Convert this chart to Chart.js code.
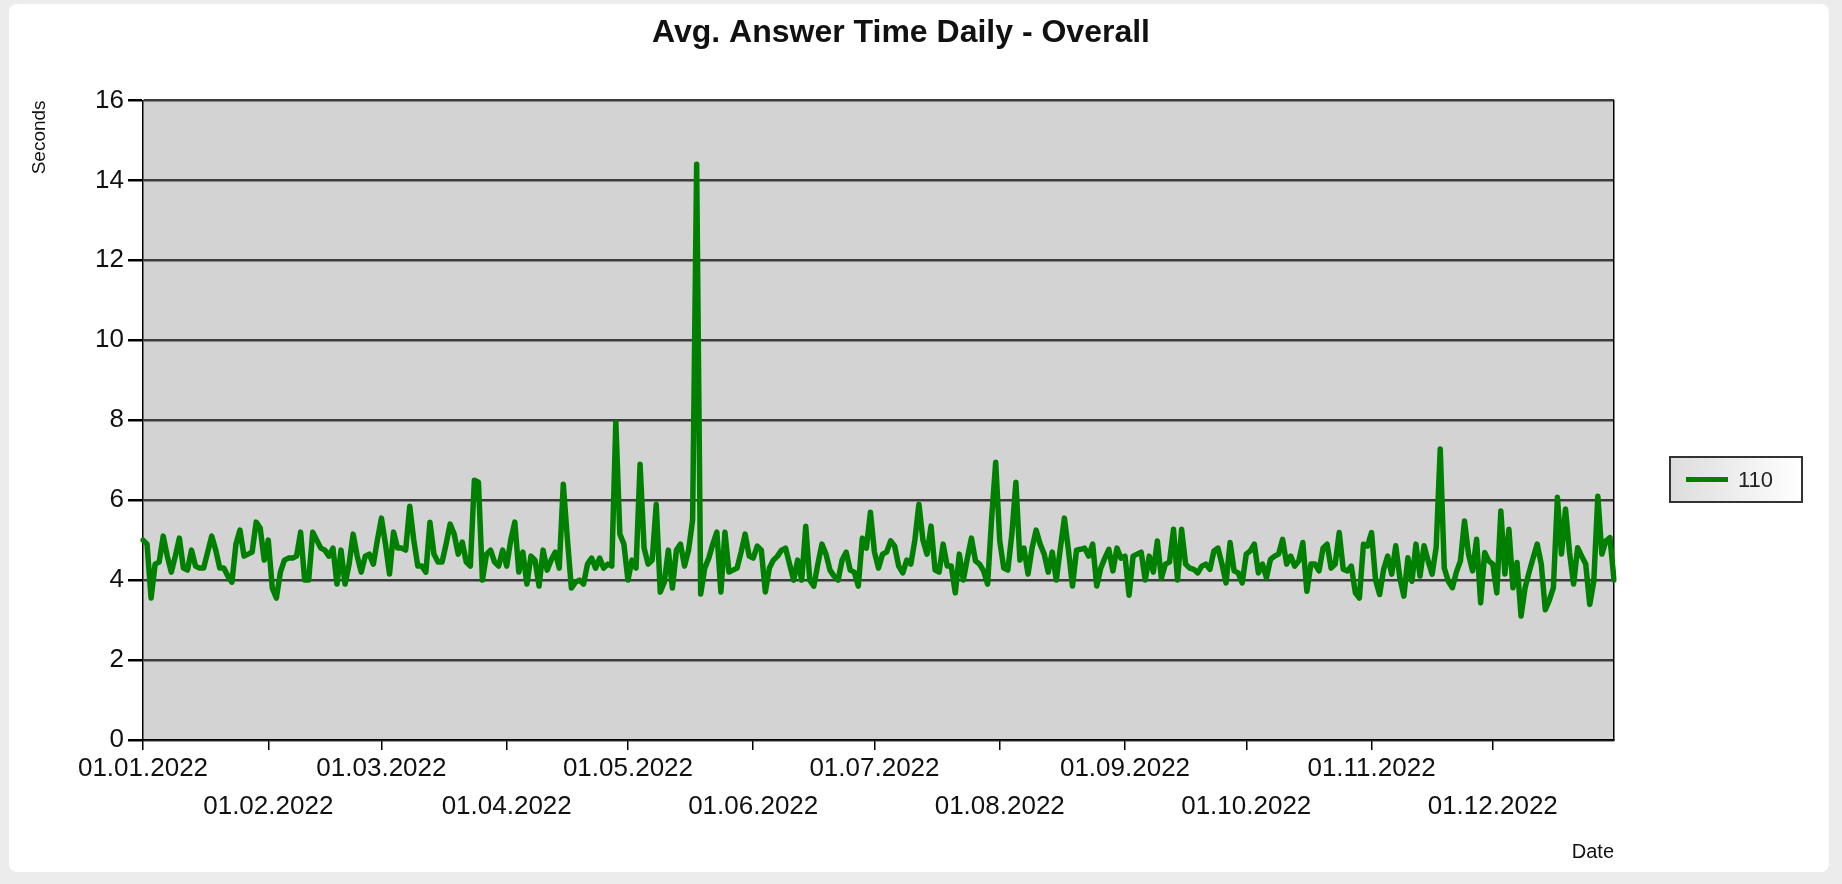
<!DOCTYPE html>
<html>
<head>
<meta charset="utf-8">
<title>Avg. Answer Time Daily - Overall</title>
<script src="https://cdn.jsdelivr.net/npm/chart.js@4.4.1/dist/chart.umd.min.js"></script>
<style>
  html, body { margin: 0; padding: 0; background: #ececec; overflow: hidden; }
  canvas { display: block; }
</style>
</head>
<body>
<canvas id="mychart" width="1842" height="884"></canvas>
<script>
// values, one array per month (seconds)
const jan = [5.0, 4.9, 3.55, 4.4, 4.45, 5.1, 4.6, 4.2, 4.6, 5.05, 4.3, 4.25, 4.75, 4.35, 4.3, 4.3, 4.7, 5.1, 4.75, 4.3,
  4.3, 4.1, 3.95, 4.9, 5.25, 4.6, 4.65, 4.7, 5.45, 5.3, 4.5];
const feb = [5.0, 3.8, 3.55, 4.2, 4.5, 4.55, 4.55, 4.6, 5.2, 4.0, 4.0, 5.2, 5.0, 4.8, 4.75, 4.6, 4.8, 3.9, 4.75, 3.9,
  4.4, 5.15, 4.6, 4.2, 4.6, 4.65, 4.4, 5.0];
const mar = [5.55, 4.9, 4.15, 5.2, 4.8, 4.8, 4.75, 5.85, 5.0, 4.35, 4.35, 4.2, 5.45, 4.65, 4.45, 4.45, 4.9, 5.4, 5.15, 4.65,
  4.95, 4.45, 4.35, 6.5, 6.45, 4.0, 4.65, 4.75, 4.45, 4.35, 4.75];
const apr = [4.35, 5.0, 5.45, 4.2, 4.7, 3.9, 4.6, 4.5, 3.85, 4.75, 4.25, 4.5, 4.7, 4.3, 6.4, 5.05, 3.8, 3.95, 4.0, 3.9,
  4.4, 4.55, 4.3, 4.55, 4.3, 4.4, 4.35, 7.95, 5.15, 4.9];
const may = [4.0, 4.5, 4.3, 6.9, 4.8, 4.4, 4.5, 5.9, 3.7, 3.95, 4.75, 3.8, 4.75, 4.9, 4.35, 4.75, 5.5, 14.4, 3.65, 4.3,
  4.55, 4.9, 5.2, 3.7, 5.2, 4.2, 4.25, 4.3, 4.7, 5.15, 4.6];
const jun = [4.55, 4.85, 4.75, 3.7, 4.3, 4.5, 4.6, 4.75, 4.8, 4.4, 4.0, 4.5, 4.0, 5.35, 4.0, 3.85, 4.4, 4.9, 4.65, 4.25,
  4.1, 4.0, 4.5, 4.7, 4.25, 4.2, 3.85, 5.05, 4.8, 5.7];
const jul = [4.7, 4.3, 4.65, 4.7, 4.98, 4.85, 4.35, 4.18, 4.5, 4.4, 5.0, 5.9, 5.0, 4.65, 5.35, 4.25, 4.2, 4.9, 4.35, 4.35,
  3.68, 4.65, 4.0, 4.55, 5.05, 4.48, 4.4, 4.23, 3.9, 5.55, 6.95];
const aug = [4.98, 4.3, 4.25, 5.15, 6.45, 4.5, 4.8, 4.15, 4.8, 5.25, 4.9, 4.65, 4.2, 4.7, 4.0, 4.8, 5.55, 4.75, 3.85, 4.75,
  4.77, 4.8, 4.6, 4.9, 3.85, 4.3, 4.55, 4.77, 4.23, 4.8, 4.55];
const sep = [4.6, 3.62, 4.6, 4.65, 4.7, 4.0, 4.6, 4.2, 4.98, 4.05, 4.4, 4.45, 5.27, 4.0, 5.27, 4.4, 4.3, 4.27, 4.18, 4.35,
  4.4, 4.27, 4.73, 4.8, 4.4, 3.93, 4.94, 4.23, 4.18, 3.93];
const oct = [4.65, 4.73, 4.9, 4.18, 4.4, 4.06, 4.52, 4.6, 4.65, 5.02, 4.4, 4.6, 4.35, 4.48, 4.94, 3.72, 4.4, 4.4, 4.23, 4.8,
  4.9, 4.3, 4.4, 5.19, 4.27, 4.23, 4.35, 3.68, 3.55, 4.9, 4.85];
const nov = [5.19, 4.0, 3.64, 4.27, 4.6, 4.15, 4.86, 4.06, 3.6, 4.56, 3.97, 4.9, 4.1, 4.86, 4.48, 4.15, 4.82, 7.28, 4.3, 3.97,
  3.81, 4.2, 4.48, 5.48, 4.65, 4.23, 5.02, 3.43, 4.69, 4.48];
const dec = [4.4, 3.68, 5.73, 4.15, 5.27, 3.81, 4.44, 3.1, 3.81, 4.2, 4.56, 4.9, 4.4, 3.26, 3.5, 3.81, 6.07, 4.65, 5.78, 4.69,
  3.9, 4.81, 4.6, 4.4, 3.39, 3.97, 6.1, 4.65, 4.98, 5.06, 4.0];

const months = [jan, feb, mar, apr, may, jun, jul, aug, sep, oct, nov, dec];
const seriesName = '110';
const yTicks = [0, 2, 4, 6, 8, 10, 12, 14, 16];

// date labels dd.mm.2022, one per value
const pad = n => String(n).padStart(2, '0');
const dates = [];
months.forEach((m, mi) => m.forEach((v, di) => dates.push(pad(di + 1) + '.' + pad(mi + 1) + '.2022')));
const answerTime = [].concat(...months);

const isMonthStart = i => dates[i] && dates[i].startsWith('01.');
const font = "'Liberation Sans', Arial, sans-serif";

// plot background, white card, legend box
const chartDecor = {
  id: 'chartDecor',
  beforeDraw(chart) {
    const { ctx, chartArea: a } = chart;
    ctx.save();
    ctx.fillStyle = '#ffffff';
    ctx.beginPath();
    if (ctx.roundRect) ctx.roundRect(9, 4, 1820, 868, 8); else ctx.rect(9, 4, 1820, 868);
    ctx.fill();
    ctx.fillStyle = '#d3d3d3';
    ctx.fillRect(a.left, a.top, a.right - a.left, a.bottom - a.top);
    ctx.restore();
  },
  afterDraw(chart) {
    const { ctx, chartArea: a } = chart;
    const ds = chart.data.datasets[0];
    const x = a.right + 56, y = 457, w = 132, h = 45;
    ctx.save();
    const g = ctx.createLinearGradient(x, 0, x + w, 0);
    g.addColorStop(0, '#dcdcdc');
    g.addColorStop(1, '#ffffff');
    ctx.fillStyle = g;
    ctx.fillRect(x, y, w, h);
    ctx.strokeStyle = '#333333';
    ctx.lineWidth = 2;
    ctx.strokeRect(x, y, w, h);
    ctx.strokeStyle = ds.borderColor;
    ctx.lineWidth = 5;
    ctx.beginPath();
    ctx.moveTo(x + 16, y + h / 2);
    ctx.lineTo(x + 58, y + h / 2);
    ctx.stroke();
    ctx.fillStyle = '#222';
    ctx.font = '22px ' + font;
    ctx.textBaseline = 'middle';
    ctx.fillText(ds.label, x + 68, y + h / 2 + 1);
    ctx.restore();
  }
};

const ctx = document.getElementById('mychart').getContext('2d');
const myChart = new Chart(ctx, {
  type: 'line',
  data: {
    labels: dates,
    datasets: [{
      label: seriesName,
      data: answerTime,
      borderColor: '#008000',
      borderWidth: 5.5,
      borderJoinStyle: 'round',
      borderCapStyle: 'round',
      pointRadius: 0,
      tension: 0,
      fill: false
    }]
  },
  options: {
    responsive: false,
    animation: false,
    layout: { padding: { left: 28, right: 68, top: 0, bottom: 0 } },
    plugins: {
      legend: { display: false },
      tooltip: { enabled: false },
      title: {
        display: true,
        text: 'Avg. Answer Time Daily - Overall',
        color: '#111',
        font: { family: font, size: 32, weight: 'bold' },
        padding: { top: 14, bottom: 48 }
      }
    },
    scales: {
      x: {
        type: 'category',
        offset: false,
        grid: {
          drawOnChartArea: false,
          drawTicks: true,
          tickLength: 10,
          lineWidth: 1.5,
          tickColor: c => isMonthStart(c.index) ? '#000' : 'rgba(0,0,0,0)',
          color: 'rgba(0,0,0,0)'
        },
        border: { color: '#000', width: 1.5 },
        ticks: {
          autoSkip: false,
          maxRotation: 0,
          minRotation: 0,
          padding: 0,
          color: '#111',
          font: { family: font, size: 26, lineHeight: 1.45 },
          callback: function (value, index) {
            if (!isMonthStart(index)) return '';
            const label = dates[index];
            const m = parseInt(label.substr(3, 2), 10) - 1;
            return m % 2 === 0 ? [label] : ['', label];
          }
        },
        title: {
          display: true,
          text: 'Date',
          align: 'end',
          color: '#111',
          font: { family: font, size: 20 },
          padding: { top: 0, bottom: 20 }
        },
        afterFit: scale => { scale.height = 144; }
      },
      y: {
        min: yTicks[0],
        max: yTicks[yTicks.length - 1],
        afterBuildTicks: scale => { scale.ticks = yTicks.map(v => ({ value: v })); },
        grid: {
          color: '#3c3c3c',
          lineWidth: 2.5,
          tickColor: '#000',
          tickLength: 15
        },
        border: { color: '#000', width: 1.5 },
        ticks: {
          padding: 4,
          color: '#111',
          font: { family: font, size: 26 }
        },
        title: {
          display: true,
          text: 'Seconds',
          align: 'end',
          color: '#111',
          font: { family: font, size: 19 },
          padding: { top: 0, bottom: 0 }
        },
        afterFit: scale => { scale.width = 115; }
      },
      y2: {
        type: 'linear',
        position: 'right',
        min: 0,
        max: 16,
        grid: { drawOnChartArea: false, drawTicks: false },
        border: { color: '#000', width: 1.5 },
        ticks: { display: false },
        afterFit: scale => { scale.width = 160; }
      }
    }
  },
  plugins: [chartDecor]
});
</script>
</body>
</html>
